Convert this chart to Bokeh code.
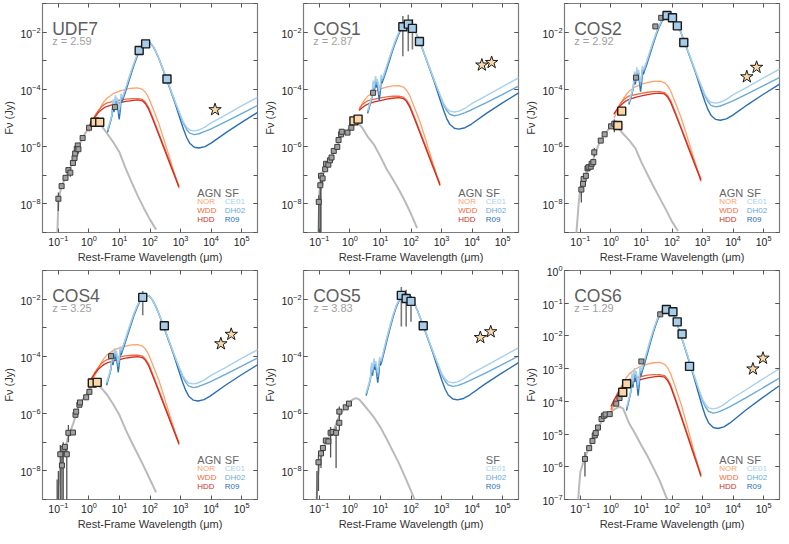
from bokeh.plotting import figure
from bokeh.models import FixedTicker, Label, LogAxis, Range1d, LogTickFormatter, CustomJSTickFormatter
from bokeh.layouts import gridplot
from bokeh.embed import file_html
from bokeh.resources import INLINE

FONT = "Liberation Sans"

# ---------------- panel identity ----------------
PANEL_NAMES = ["UDF7", "COS1", "COS2", "COS4", "COS5", "COS6"]
PANEL_Z = ["z = 2.59", "z = 2.87", "z = 2.92", "z = 3.25", "z = 3.83", "z = 1.29"]
HAS_AGN = [True, True, True, True, False, True]

# ---------------- axes (log10 units) ----------------
X_LOG_RANGE = (-1.52, 5.52)
Y_LOG_RANGES = [(-9, -1), (-9, -1), (-9, -1), (-9, -1), (-9, -1), (-7, 0)]
X_TICK_EXPONENTS = [-1, 0, 1, 2, 3, 4, 5]
Y_TICKS_A = [-9, -8, -7, -6, -5, -4, -3, -2, -1]
Y_LABEL_EXP_A = [-8, -6, -4, -2]
Y_TICKS_B = [-7, -6, -5, -4, -3, -2, -1, 0]
Y_LABEL_EXP_B = [-7, -6, -5, -4, -3, -2, -1, 0]

# ---------------- stellar model curves (log lambda, log F) ----------------
ST_LOGLAM = [-1.2, -1.05, -1.0, -0.9, -0.8, -0.7, -0.6, -0.5, -0.4, -0.3, -0.2, -0.1, 0.0,
             0.1, 0.2, 0.3, 0.4, 0.6, 0.8, 1.0, 1.2, 1.4, 1.6, 1.8, 2.0, 2.2]
ST_UDF7 = [-12.0, -9.6, -7.9, -7.38, -7.15, -6.92, -6.72, -6.45, -6.12, -5.9, -5.68, -5.5, -5.35,
           -5.22, -5.14, -5.13, -5.25, -5.55, -5.85, -6.2, -6.75, -7.25, -7.72, -8.15, -8.55, -8.9]
ST_COS1 = [-12.0, -9.6, -7.6, -7.05, -6.72, -6.6, -6.35, -6.12, -5.95, -5.65, -5.52, -5.45, -5.35,
           -5.25, -5.2, -5.22, -5.33, -5.68, -5.95, -6.35, -6.78, -7.13, -7.5, -7.9, -8.35, -8.85]
ST_COS2 = [-10.0, -7.9, -7.46, -7.15, -6.92, -6.7, -6.5, -6.2, -5.92, -5.72, -5.56, -5.42, -5.3,
           -5.22, -5.28, -5.42, -5.55, -5.78, -6.05, -6.55, -6.98, -7.4, -7.8, -8.2, -8.62, -8.95]
ST_COS4 = [-12.0, -10.0, -8.6, -7.7, -7.3, -6.9, -6.6, -6.3, -5.95, -5.68, -5.5, -5.35, -5.2,
           -5.05, -4.97, -5.02, -5.1, -5.35, -5.68, -6.05, -6.55, -7.0, -7.42, -7.85, -8.3, -8.75]
ST_COS5 = [-11.0, -8.2, -7.75, -7.3, -7.0, -6.85, -6.7, -6.5, -6.2, -6.0, -5.85, -5.72, -5.6,
           -5.5, -5.46, -5.5, -5.62, -5.88, -6.15, -6.48, -6.88, -7.3, -7.72, -8.2, -8.7, -9.2]
ST_COS6 = [-9.0, -6.7, -6.15, -5.85, -5.6, -5.4, -5.2, -5.0, -4.8, -4.6, -4.45, -4.38, -4.32,
           -4.25, -4.2, -4.17, -4.22, -4.68, -5.0, -5.35, -5.68, -6.05, -6.43, -6.9, -7.3, -7.7]
STELLAR = [ST_UDF7, ST_COS1, ST_COS2, ST_COS4, ST_COS5, ST_COS6]

# ---------------- AGN templates (read from UDF7) ----------------
AGN_LOGLAM = [0.0, 0.1, 0.2, 0.3, 0.4, 0.5, 0.6, 0.8, 1.0, 1.2, 1.4, 1.6, 1.75, 1.85, 1.95,
              2.1, 2.3, 2.5, 2.7, 2.95]
NOR_LOGF = [-5.50, -5.25, -5.02, -4.80, -4.58, -4.42, -4.30, -4.15, -4.06, -4.00, -3.96, -3.95,
            -4.00, -4.10, -4.28, -4.68, -5.23, -5.90, -6.60, -7.46]
WDD_LOGF = [-5.40, -5.12, -4.92, -4.75, -4.62, -4.53, -4.47, -4.42, -4.38, -4.34, -4.32, -4.32,
            -4.35, -4.45, -4.62, -5.01, -5.57, -6.12, -6.68, -7.38]
HDD_LOGF = [-5.30, -5.10, -4.95, -4.82, -4.72, -4.64, -4.59, -4.52, -4.47, -4.42, -4.39, -4.37,
            -4.40, -4.50, -4.68, -5.07, -5.62, -6.18, -6.74, -7.42]
AGN_NORM = [0.0, 0.08, 0.24, 0.36, 0.0, 1.14]     # per-panel normalisation (dex)
AGN_START = [0.0, 0.3, 0.1, 0.0, 0.0, 0.0]        # first plotted log lambda

# ---------------- SF templates (read from UDF7) ----------------
SF_LOGLAM = [0.61, 0.66, 0.71, 0.75, 0.79, 0.82, 0.87, 0.90, 0.93, 0.99, 1.03, 1.05, 1.08, 1.12,
             1.2, 1.3, 1.4, 1.5, 1.6, 1.7, 1.8, 1.9, 2.0, 2.1, 2.2, 2.3, 2.4, 2.5, 2.6, 2.7,
             2.8, 2.9, 3.0, 3.1, 3.2, 3.3, 3.45, 3.6, 3.8, 4.0, 4.5, 5.0, 5.6]
CE01_LOGF = [-5.40, -5.22, -5.05, -4.88, -4.35, -4.60, -4.20, -4.40, -4.30, -4.72, -4.45, -4.15,
             -4.28, -4.20, -3.95, -3.62, -3.30, -3.00, -2.74, -2.53, -2.40, -2.35, -2.38, -2.50,
             -2.70, -2.95, -3.22, -3.50, -3.78, -4.08, -4.36, -4.64, -4.90, -5.15, -5.32, -5.42,
             -5.45, -5.42, -5.32, -5.17, -4.88, -4.58, -4.23]
DH02_LOGF = [-5.45, -5.28, -5.12, -4.95, -4.45, -4.70, -4.30, -4.50, -4.40, -4.85, -4.55, -4.25,
             -4.35, -4.27, -4.00, -3.67, -3.34, -3.03, -2.76, -2.54, -2.41, -2.35, -2.38, -2.50,
             -2.70, -2.95, -3.23, -3.52, -3.80, -4.08, -4.37, -4.65, -4.93, -5.20, -5.40, -5.53,
             -5.58, -5.55, -5.47, -5.38, -5.12, -4.85, -4.52]
R09_LOGF = [-5.50, -5.30, -5.10, -4.92, -4.55, -4.80, -4.40, -4.60, -4.50, -5.05, -4.70, -4.35,
            -4.45, -4.32, -4.08, -3.74, -3.40, -3.08, -2.80, -2.57, -2.42, -2.36, -2.38, -2.50,
            -2.70, -2.95, -3.23, -3.52, -3.82, -4.12, -4.42, -4.75, -5.08, -5.40, -5.68, -5.88,
            -6.02, -6.05, -6.00, -5.88, -5.50, -5.15, -4.75]
CE01_COS5 = [-5.27, -5.09, -4.92, -4.75, -4.22, -4.47, -4.07, -4.27, -4.17, -4.59, -4.32, -4.02,
             -4.15, -4.07, -3.72, -3.29, -2.89, -2.52, -2.21, -2.00, -1.87, -1.82, -1.85, -1.97,
             -2.17, -2.42, -2.69, -2.97, -3.25, -3.55, -3.83, -4.11, -4.37, -4.62, -4.79, -4.89,
             -4.92, -4.89, -4.79, -4.64, -4.35, -4.05, -3.70]
DH02_COS5 = [-5.32, -5.15, -4.99, -4.82, -4.32, -4.57, -4.17, -4.37, -4.27, -4.72, -4.42, -4.12,
             -4.22, -4.14, -3.77, -3.34, -2.93, -2.55, -2.23, -2.01, -1.88, -1.82, -1.85, -1.97,
             -2.17, -2.42, -2.70, -2.99, -3.27, -3.55, -3.84, -4.12, -4.40, -4.67, -4.87, -5.00,
             -5.05, -5.02, -4.94, -4.85, -4.59, -4.32, -3.99]
R09_COS5 = [-5.37, -5.17, -4.97, -4.79, -4.42, -4.67, -4.27, -4.47, -4.37, -4.92, -4.57, -4.22,
            -4.32, -4.19, -3.85, -3.41, -2.99, -2.60, -2.27, -2.04, -1.89, -1.83, -1.85, -1.97,
            -2.17, -2.42, -2.70, -2.99, -3.29, -3.59, -3.89, -4.22, -4.55, -4.87, -5.15, -5.35,
            -5.49, -5.52, -5.47, -5.35, -4.97, -4.62, -4.22]
SF_SHIFT_X = [0.0, -0.03, -0.02, -0.03, -0.08, -0.10]
SF_NORM = [0.0, 0.66, 0.97, 0.49, 0.0, 1.22]

# ---------------- photometry (log lambda, log F) ----------------
GRAY_X = [
    [-1.0, -0.894, -0.767, -0.672, -0.608, -0.524, -0.471, -0.45, -0.397, -0.365, -0.344, -0.206, 0.005, 0.132, 0.852],
    [-1.02, -0.969, -0.948, -0.895, -0.81, -0.78, -0.707, -0.654, -0.602, -0.529, -0.414, -0.372, -0.288, -0.267, -0.079, 0.047, 0.759],
    [-0.968, -0.915, -0.894, -0.82, -0.767, -0.735, -0.661, -0.63, -0.577, -0.545, -0.333, -0.206, 0.005, 0.111, 0.82, 1.455, 1.646],
    [-0.937, -0.884, -0.841, -0.788, -0.725, -0.672, -0.524, -0.439, -0.418, -0.312, -0.291, -0.09, 0.016, 0.725],
    [-1.03, -0.947, -0.884, -0.789, -0.705, -0.632, -0.568, -0.453, -0.347, -0.347, -0.137, -0.032],
    [-0.85, -0.712, -0.605, -0.53, -0.498, -0.424, -0.306, -0.232, -0.178, -0.04, 0.174, 0.281, 0.996, 1.615],
]
GRAY_Y = [
    [-7.82, -7.38, -7.09, -6.82, -6.91, -6.57, -6.40, -6.24, -6.07, -5.96, -6.09, -5.70, -5.34, -5.21, -4.62],
    [-7.93, -7.35, -7.02, -7.11, -6.79, -6.60, -6.63, -6.48, -6.38, -6.15, -6.01, -5.77, -5.57, -5.48, -5.51, -5.34, -4.12],
    [-7.50, -7.30, -7.13, -7.02, -6.76, -6.72, -6.70, -6.60, -6.54, -6.20, -5.79, -5.57, -5.29, -5.20, -3.59, -1.80, -1.50],
    [-7.42, -7.81, -7.23, -7.16, -7.42, -6.67, -6.66, -6.04, -5.93, -5.69, -5.61, -5.43, -5.24, -3.99],
    [-7.70, -7.39, -7.20, -6.94, -6.97, -6.67, -6.64, -6.67, -6.32, -5.93, -5.78, -5.65],
    [-5.76, -5.43, -5.21, -5.04, -4.97, -4.80, -4.54, -4.44, -4.40, -4.39, -4.07, -3.90, -2.78, -1.34],
]
GRAY_ERR_X = [
    [-1.0, -0.608, -0.344],
    [-1.02, -0.969, -0.948, -0.895],
    [-0.968, -0.545, 0.111],
    [-1.04, -1.0, -0.937, -0.884, -0.841, -0.725, -0.672],
    [-1.08, -1.03, -0.947, -0.632, -0.453, -0.347],
    [-0.85],
]
GRAY_ERR_LO = [
    [-8.25, -7.05, -6.25],
    [-9.5, -9.5, -9.5, -7.35],
    [-7.95, -6.35, -5.5],
    [-9.5, -9.5, -9.5, -9.5, -9.5, -9.5, -7.0],
    [-9.5, -8.7, -7.9, -7.53, -7.9, -6.6],
    [-6.3],
]
GRAY_ERR_HI = [
    [-7.6, -6.8, -5.95],
    [-7.7, -7.2, -6.9, -6.95],
    [-7.35, -6.05, -5.05],
    [-8.3, -8.0, -7.1, -7.5, -7.0, -7.1, -6.4],
    [-8.0, -7.45, -7.2, -6.47, -6.45, -5.75],
    [-5.55],
]
NIR_X = [[0.196, 0.354], [0.131, 0.267], [0.228, 0.354], [0.111, 0.27], [], [0.387, 0.515]]
NIR_Y = [[-5.15, -5.15], [-5.10, -5.04], [-5.26, -4.76], [-4.93, -4.91], [], [-3.72, -3.46]]
FIR_X = [[1.646, 1.857, 2.556], [1.733, 1.911, 2.047, 2.277], [1.836, 2.016, 2.175, 2.386],
         [1.762, 2.47], [1.684, 1.842, 2.0, 2.4], [1.817, 2.03, 2.17, 2.33, 2.575]]
FIR_Y = [[-2.64, -2.41, -3.64], [-1.81, -1.72, -1.87, -2.33], [-1.42, -1.50, -1.78, -2.36],
         [-1.94, -2.93], [-1.87, -1.98, -2.08, -2.93], [-1.19, -1.26, -1.57, -1.94, -2.93]]
FIR_ERR_X = [[], [1.733, 1.911, 2.047], [], [1.762], [1.684, 1.842, 2.0], []]
FIR_ERR_LO = [[], [-2.84, -2.67, -2.61], [], [-2.56], [-2.96, -2.96, -2.79], []]
FIR_ERR_HI = [[], [-1.44, -1.39, -1.55], [], [-1.72], [-1.58, -1.67, -1.89], []]
RADIO_X = [[4.13], [4.32, 4.64], [4.45, 4.77], [4.32, 4.66], [4.27, 4.61], [4.65, 4.98]]
RADIO_Y = [[-4.71], [-3.15, -3.06], [-3.56, -3.23], [-3.56, -3.23], [-3.34, -3.14], [-3.01, -2.68]]

# ---------------- styling ----------------
C_STELLAR = "#bababa"
C_NOR, C_WDD, C_HDD = "#fca46c", "#f4693a", "#cf2f26"
C_CE01, C_DH02, C_R09 = "#a9d0ea", "#6aaad8", "#2a6fb6"
FRAME_W, FRAME_H = 215, 229


def L(vals, shift=0.0):
    return [10.0 ** (v + shift) for v in vals]


def style_axis(ax):
    ax.axis_line_color = None
    ax.major_tick_in = 4
    ax.major_tick_out = 0
    ax.minor_tick_in = 4
    ax.minor_tick_out = 0
    ax.major_tick_line_color = "#555555"
    ax.minor_tick_line_color = "#555555"
    ax.major_label_text_font = FONT
    ax.major_label_text_font_size = "10.5px"
    ax.major_label_text_color = "#222222"
    ax.major_label_standoff = 2
    ax.axis_label_text_font = FONT
    ax.axis_label_text_font_size = "11px"
    ax.axis_label_text_font_style = "normal"
    ax.axis_label_text_color = "#333333"
    ax.axis_label_standoff = 2


def mirror_axis(p, ticker, side):
    ax = LogAxis(ticker=ticker)
    style_axis(ax)
    ax.formatter = CustomJSTickFormatter(code='return "";')
    ax.major_label_text_font_size = "0px"
    ax.major_label_standoff = 0
    p.add_layout(ax, side)


def add_text(p, fx, fy, txt, size, color, k):
    ylo, yhi = Y_LOG_RANGES[k]
    x = 10 ** (X_LOG_RANGE[0] + fx * (X_LOG_RANGE[1] - X_LOG_RANGE[0]))
    y = 10 ** (yhi - fy * (yhi - ylo))
    p.add_layout(Label(x=x, y=y, text=txt, text_font=FONT, text_font_size=size,
                       text_color=color, text_baseline="alphabetic", text_align="left"))


def build_panel(k):
    ylo, yhi = Y_LOG_RANGES[k]
    top_row = k < 3
    p = figure(frame_width=FRAME_W, frame_height=FRAME_H, title=None,
               x_axis_type="log", y_axis_type="log",
               x_range=Range1d(10 ** X_LOG_RANGE[0], 10 ** X_LOG_RANGE[1]),
               y_range=Range1d(10 ** ylo, 10 ** yhi),
               output_backend="svg", toolbar_location=None,
               min_border_left=38, min_border_right=4,
               min_border_top=3 if top_row else 5, min_border_bottom=30)
    p.grid.visible = False
    p.outline_line_color = "#7c7c7c"
    p.outline_line_width = 1.2
    p.background_fill_color = "white"
    p.border_fill_color = "white"

    if k == 5:
        yt, ye = Y_TICKS_B, Y_LABEL_EXP_B
    else:
        yt, ye = Y_TICKS_A, Y_LABEL_EXP_A

    xa = p.xaxis[0]
    ya = p.yaxis[0]
    style_axis(xa)
    style_axis(ya)
    xa.formatter = LogTickFormatter(min_exponent=0)
    ya.formatter = LogTickFormatter(min_exponent=0)
    xa.ticker = FixedTicker(ticks=L(X_TICK_EXPONENTS), minor_ticks=[])
    xa.axis_label = "Rest-Frame Wavelength (μm)"
    ya.ticker = FixedTicker(ticks=L(ye), minor_ticks=L(yt))
    ya.axis_label = "Fν (Jy)"
    mirror_axis(p, FixedTicker(ticks=L(X_TICK_EXPONENTS), minor_ticks=[]), "above")
    mirror_axis(p, FixedTicker(ticks=L(ye), minor_ticks=L(yt)), "right")

    # stellar model
    p.line(L(ST_LOGLAM), L(STELLAR[k]), line_color=C_STELLAR, line_width=2)

    # AGN models
    if HAS_AGN[k]:
        idx = [j for j, v in enumerate(AGN_LOGLAM) if v >= AGN_START[k]]
        lx = [10 ** AGN_LOGLAM[j] for j in idx]
        for arr, col in ((NOR_LOGF, C_NOR), (WDD_LOGF, C_WDD), (HDD_LOGF, C_HDD)):
            p.line(lx, [10 ** (arr[j] + AGN_NORM[k]) for j in idx], line_color=col, line_width=1.3)

    # SF models (dark first so the lighter templates stay visible)
    sx = L(SF_LOGLAM, SF_SHIFT_X[k])
    if k == 4:
        sf_sets = ((R09_COS5, C_R09), (DH02_COS5, C_DH02), (CE01_COS5, C_CE01))
    else:
        sf_sets = ((R09_LOGF, C_R09), (DH02_LOGF, C_DH02), (CE01_LOGF, C_CE01))
    for arr, col in sf_sets:
        p.line(sx, L(arr, SF_NORM[k]), line_color=col, line_width=1.4)

    # error bars
    if GRAY_ERR_X[k]:
        ex = L(GRAY_ERR_X[k])
        p.segment(x0=ex, x1=ex, y0=L(GRAY_ERR_LO[k]), y1=L(GRAY_ERR_HI[k]),
                  line_color="#555555", line_width=1.3)
    if FIR_ERR_X[k]:
        ex = L(FIR_ERR_X[k])
        p.segment(x0=ex, x1=ex, y0=L(FIR_ERR_LO[k]), y1=L(FIR_ERR_HI[k]),
                  line_color="#7a7a7a", line_width=1.6)

    # photometry
    p.scatter(L(GRAY_X[k]), L(GRAY_Y[k]), marker="square", size=5,
              fill_color="#a0a0a0", line_color="#3c3c3c", line_width=1)
    if NIR_X[k]:
        p.scatter(L(NIR_X[k]), L(NIR_Y[k]), marker="square", size=8,
                  fill_color="#fcd6a6", line_color="#1a1a1a", line_width=1.4)
    p.scatter(L(FIR_X[k]), L(FIR_Y[k]), marker="square", size=8,
              fill_color="#a6cde9", line_color="#1a1a1a", line_width=1.4)
    p.scatter(L(RADIO_X[k]), L(RADIO_Y[k]), marker="star", size=13,
              fill_color="#f9d9a8", line_color="#1a1a1a", line_width=1)

    # texts
    add_text(p, 0.045, 0.11, PANEL_NAMES[k], "17.5px", "#5e5e5e", k)
    add_text(p, 0.045, 0.165, PANEL_Z[k], "11px", "#a0a0a0", k)
    if HAS_AGN[k]:
        add_text(p, 0.72, 0.826, "AGN", "11px", "#666666", k)
        add_text(p, 0.72, 0.863, "NOR", "8px", C_NOR, k)
        add_text(p, 0.72, 0.902, "WDD", "8px", C_WDD, k)
        add_text(p, 0.72, 0.942, "HDD", "8px", C_HDD, k)
    add_text(p, 0.848, 0.826, "SF", "11px", "#666666", k)
    add_text(p, 0.848, 0.863, "CE01", "8px", C_CE01, k)
    add_text(p, 0.848, 0.902, "DH02", "8px", C_DH02, k)
    add_text(p, 0.848, 0.942, "R09", "8px", C_R09, k)
    return p


panels = [build_panel(k) for k in range(6)]
grid = gridplot([panels[0:3], panels[3:6]], toolbar_location=None)

with open("out.html", "w") as f:
    f.write(file_html(grid, INLINE))
